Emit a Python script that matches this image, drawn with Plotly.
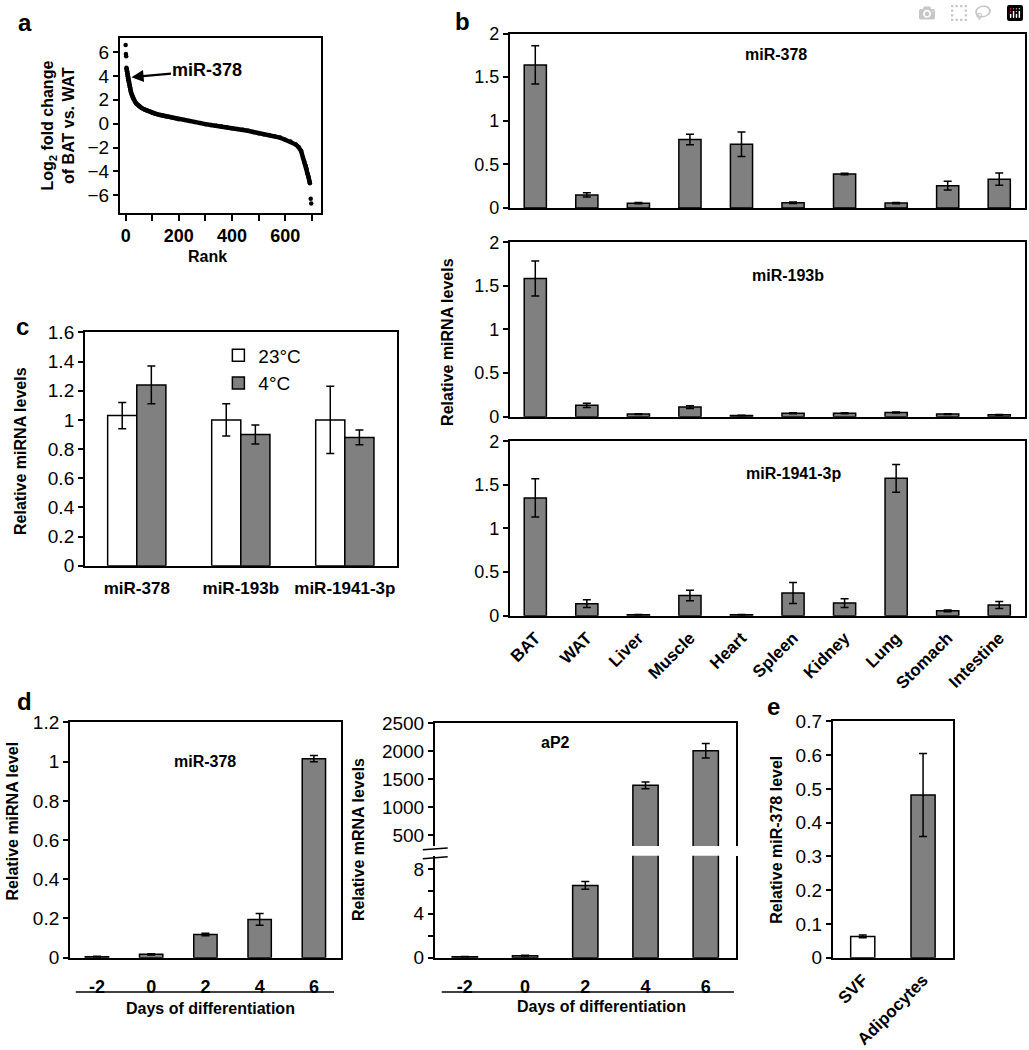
import plotly.graph_objects as go

W, H = 1029, 1050
FONT = "Liberation Sans, Arial, Helvetica, sans-serif"
GRAY = "#808080"
TICK = 19


def X(px):
    return px / W


def Y(py):
    return 1 - py / H


# ---------------- data ----------------
# Panel a: ranked log2 fold change (BAT vs WAT) - main band
rank_a = [3, 4, 5, 6, 7, 8, 9, 10, 12, 14, 16, 18, 20, 23, 26, 30, 35, 40, 45, 50, 55, 60,
          70, 80, 90, 100, 110, 120, 130, 140, 150, 160, 170, 180, 190, 200, 220, 240, 260, 280,
          300, 320, 340, 360, 380, 400, 420, 440, 460, 480, 500, 520, 540, 560, 580, 600, 620,
          640, 650, 660, 667, 672, 677, 681, 684, 688, 691, 693]
fold_a = [4.7, 4.55, 4.4, 4.25, 4.1, 3.95, 3.8, 3.65, 3.45, 3.25, 3.05, 2.85, 2.65,
          2.45, 2.25, 2.05, 1.85, 1.7, 1.58, 1.48, 1.4, 1.32, 1.2, 1.1, 1.02, 0.9, 0.84, 0.78,
          0.73, 0.68, 0.63, 0.58, 0.53, 0.48, 0.43, 0.38, 0.3, 0.22, 0.14, 0.06, -0.04, -0.11,
          -0.17, -0.23, -0.3, -0.38, -0.45, -0.52, -0.6, -0.7, -0.8, -0.88, -0.96, -1.05, -1.17,
          -1.35, -1.5, -1.75, -1.95, -2.3, -2.85, -3.2, -3.5, -3.8, -4.2, -4.5, -4.8, -5.0]
# isolated extreme points
rank_out = [0, 1, 2, 696, 698]
fold_out = [6.6, 5.85, 5.65, -6.3, -6.7]
rank_ticks = [0, 200, 400, 600]
rank_minor = [100, 300, 500, 700]

# Panel b: tissue distribution
tissues = ["BAT", "WAT", "Liver", "Muscle", "Heart", "Spleen", "Kidney", "Lung", "Stomach", "Intestine"]
b378 = [1.64, 0.15, 0.055, 0.785, 0.73, 0.06, 0.39, 0.056, 0.255, 0.33]
b378_err = [0.22, 0.025, 0.008, 0.06, 0.14, 0.008, 0.008, 0.008, 0.05, 0.07]
b193 = [1.585, 0.13, 0.03, 0.11, 0.015, 0.04, 0.04, 0.048, 0.03, 0.022]
b193_err = [0.2, 0.025, 0.005, 0.015, 0.003, 0.005, 0.005, 0.005, 0.005, 0.004]
b1941 = [1.35, 0.137, 0.01, 0.23, 0.01, 0.26, 0.144, 1.574, 0.055, 0.122]
b1941_err = [0.22, 0.045, 0.003, 0.06, 0.003, 0.12, 0.05, 0.16, 0.01, 0.04]
b_titles = ["miR-378", "miR-193b", "miR-1941-3p"]
b_ticks = [0, 0.5, 1, 1.5, 2]
b_ticktext = ["0", "0.5", "1", "1.5", "2"]

# Panel c: cold exposure
mirs_c = ["miR-378", "miR-193b", "miR-1941-3p"]
c23 = [1.03, 1.0, 1.0]
c23_err = [0.09, 0.11, 0.23]
c4 = [1.24, 0.9, 0.88]
c4_err = [0.13, 0.065, 0.05]

# Panel d: differentiation time course
days = ["-2", "0", "2", "4", "6"]
d378 = [0.005, 0.017, 0.118, 0.195, 1.015]
d378_err = [0.002, 0.003, 0.006, 0.03, 0.016]
ap2 = [0.08, 0.18, 6.55, 1393, 2010]
ap2_err = [0.02, 0.03, 0.35, 60, 130]

# Panel e: SVF vs adipocytes
cells = ["SVF", "Adipocytes"]
e378 = [0.063, 0.482]
e378_err = [0.004, 0.123]


# ---------------- helpers ----------------
def tfont(size=TICK, bold=False):
    d = dict(family=FONT, size=size, color="black")
    if bold:
        d["weight"] = "bold"
    return d


def yax(dom, rng, tickvals, anchor, ticktext=None, minor=None, mirror=True, size=TICK):
    d = dict(domain=[Y(dom[1]), Y(dom[0])], range=rng, tickmode="array", tickvals=tickvals,
             showline=True, linecolor="black", linewidth=1.5, mirror=mirror,
             showgrid=False, zeroline=False, ticks="outside", ticklen=5, tickwidth=1.5,
             tickcolor="black", tickfont=tfont(size), anchor=anchor, fixedrange=True)
    if ticktext is not None:
        d["ticktext"] = ticktext
    if minor is not None:
        d["minor"] = dict(tickmode="array", tickvals=minor, ticks="outside", ticklen=5,
                          tickwidth=1.5, tickcolor="black", showgrid=False)
    return d


def xcat(dom, anchor, labels=True, angle=0, size=17, pad=10, mirror=True, side="bottom"):
    return dict(domain=[X(dom[0]), X(dom[1])], type="category", anchor=anchor,
                showline=True, linecolor="black", linewidth=1.5, mirror=mirror,
                showgrid=False, zeroline=False, ticks="outside", ticklen=pad,
                tickcolor="rgba(0,0,0,0)", showticklabels=labels, tickangle=angle,
                tickfont=tfont(size, True), fixedrange=True, side=side)


def ebar(arr):
    return dict(type="data", array=arr, color="black", thickness=1.5, width=4, visible=True)


def bar(x, y, err, xa, ya, color=GRAY, width=0.42, name="", showlegend=False, offset=None):
    kw = dict(x=x, y=y, error_y=ebar(err), xaxis=xa, yaxis=ya, width=width,
              marker=dict(color=color, line=dict(color="black", width=1.5)),
              name=name, showlegend=showlegend, hoverinfo="x+y")
    if offset is not None:
        kw["offset"] = offset
    return go.Bar(**kw)


fig = go.Figure()

# ---------------- panel a ----------------
fig.add_trace(go.Scatter(x=rank_a, y=fold_a, mode="lines+markers", xaxis="x", yaxis="y",
                         line=dict(color="black", width=4.5),
                         marker=dict(color="black", size=4.5), showlegend=False))
fig.add_trace(go.Scatter(x=rank_out, y=fold_out, mode="markers", xaxis="x", yaxis="y",
                         marker=dict(color="black", size=4.5), showlegend=False))

# ---------------- panel b ----------------
b_doms = [(24, 202), (237, 415), (440, 618)]
b_data = [(b378, b378_err), (b193, b193_err), (b1941, b1941_err)]
for i, (vals, errs) in enumerate(b_data):
    n = i + 2
    fig.add_trace(bar(tissues, vals, errs, f"x{n}", f"y{n}", width=0.43))

# ---------------- panel c ----------------
fig.add_trace(bar(mirs_c, c23, c23_err, "x5", "y5", color="white", width=0.28, offset=-0.28,
                  name="23°C", showlegend=True))
fig.add_trace(bar(mirs_c, c4, c4_err, "x5", "y5", color=GRAY, width=0.28, offset=0.0,
                  name="4°C", showlegend=True))

# ---------------- panel d ----------------
fig.add_trace(bar(days, d378, d378_err, "x6", "y6", width=0.43))
fig.add_trace(bar(days, ap2, ap2_err, "x7", "y7", width=0.42))
fig.add_trace(bar(days, ap2, ap2_err, "x8", "y8", width=0.42))

# ---------------- panel e ----------------
fig.add_trace(bar(cells, e378, e378_err, "x9", "y9", color=["white", GRAY], width=0.4))

layout = dict(
    width=W, height=H, margin=dict(l=0, r=0, t=0, b=0),
    paper_bgcolor="white", plot_bgcolor="white", barmode="group",
    font=dict(family=FONT, color="black"),
    legend=dict(x=X(216), y=Y(333), xanchor="left", yanchor="top", font=tfont(TICK),
                bgcolor="rgba(0,0,0,0)", tracegroupgap=0, itemwidth=30),
)

# a axes
layout["xaxis"] = dict(domain=[X(117), X(319)], range=[-22.5, 735], tickmode="array",
                       tickvals=rank_ticks, ticktext=[str(v) for v in rank_ticks],
                       minor=dict(tickmode="array", tickvals=rank_minor, ticks="outside",
                                  ticklen=6, tickwidth=1.5, tickcolor="black", showgrid=False),
                       showline=True, linecolor="black", linewidth=1.5,
                       mirror=True, showgrid=False, zeroline=False, ticks="outside", ticklen=6,
                       tickwidth=1.5, tickcolor="black", tickfont=tfont(18, True), anchor="y",
                       fixedrange=True)
layout["yaxis"] = yax((29, 207), [-7.48, 7.15], [-6, -4, -2, 0, 2, 4, 6], "x")

# b axes
for i, dom in enumerate(b_doms):
    n = i + 2
    layout[f"xaxis{n}"] = xcat((508, 1025), f"y{n}", labels=(n == 4), angle=-45, size=17, pad=4)
    layout[f"yaxis{n}"] = yax(dom, [0, 2], b_ticks, f"x{n}", ticktext=b_ticktext, size=18)

# c axes
layout["xaxis5"] = xcat((82, 395), "y5", size=17, pad=6)
layout["yaxis5"] = yax((329, 567), [0, 1.6], [0, 0.2, 0.4, 0.6, 0.8, 1, 1.2, 1.4, 1.6], "x5",
                       ticktext=["0", "0.2", "0.4", "0.6", "0.8", "1", "1.2", "1.4", "1.6"])

# d axes
layout["xaxis6"] = xcat((67, 339), "y6", size=18, pad=12)
layout["yaxis6"] = yax((727, 967), [0, 1.2], [0, 0.2, 0.4, 0.6, 0.8, 1, 1.2], "x6",
                       ticktext=["0", "0.2", "0.4", "0.6", "0.8", "1", "1.2"])
# aP2 broken axis: lower and upper parts
layout["xaxis7"] = xcat((433, 735), "y7", size=18, pad=12, mirror=False)
layout["yaxis7"] = yax((863, 967), [0, 9.24], [0, 4, 8], "x7", minor=[2, 6])
layout["xaxis8"] = xcat((433, 735), "y8", labels=False, mirror=False, side="top")
layout["xaxis8"]["matches"] = "x7"
layout["yaxis8"] = yax((728, 853), [307, 2500], [500, 1000, 1500, 2000, 2500], "x8")

# e axes
layout["xaxis9"] = xcat((832, 953), "y9", angle=-45, size=17, pad=4)
layout["yaxis9"] = yax((726, 967), [0, 0.7], [0, 0.1, 0.2, 0.3, 0.4, 0.5, 0.6, 0.7], "x9",
                       ticktext=["0", "0.1", "0.2", "0.3", "0.4", "0.5", "0.6", "0.7"])

fig.update_layout(**layout)


def ann(text, x, y, size=16, angle=0, xanchor="center", yanchor="middle", bold=True,
        xref="paper", yref="paper"):
    fig.add_annotation(text=text, x=x, y=y, xref=xref, yref=yref, showarrow=False,
                       textangle=angle, xanchor=xanchor, yanchor=yanchor,
                       font=tfont(size, bold))


# panel letters
ann("a", X(22), Y(13), size=24)
ann("b", X(461), Y(12), size=24)
ann("c", X(20), Y(323), size=24)
ann("d", X(22), Y(706), size=24)
ann("e", X(773), Y(711), size=24)

# panel a texts
ann("Log<sub>2</sub> fold change<br>of BAT vs. WAT", X(55), Y(118), angle=-90, size=16)
ann("Rank", X(205), Y(252), size=16)
fig.add_annotation(text="miR-378", x=22, y=3.9, xref="x", yref="y", showarrow=True,
                   ax=76, ay=-7, arrowhead=2, arrowsize=1.1, arrowwidth=2.2, arrowcolor="black",
                   font=tfont(18, True))

# panel b texts
b_title_pos = [(0.516, 1.76), (0.54, 1.62), (0.55, 1.63)]
for i, (t, (fx, fy)) in enumerate(zip(b_titles, b_title_pos)):
    n = i + 2
    ann(t, fx, fy, size=16, xref=f"x{n} domain", yref=f"y{n}")
ann("Relative miRNA levels", X(446), Y(339), angle=-90, size=16)

# panel c texts
ann("Relative miRNA levels", X(17), Y(450), angle=-90, size=16)

# panel d texts
ann("miR-378", 0.5, 1.0, size=16, xref="x6 domain", yref="y6")
ann("Relative miRNA level", X(9), Y(827), angle=-90, size=16)
ann("Days of differentiation", X(208), Y(1019), size=16)
ann("aP2", 0.4, 2150, size=16, xref="x8 domain", yref="y8")
ann("Relative mRNA levels", X(356), Y(846), angle=-90, size=16)
ann("Days of differentiation", X(600), Y(1017), size=16)

# panel e texts
ann("Relative miR-378 level", X(775), Y(847), angle=-90, size=16)

# underlines for time-course x labels
for x0, x1 in [(73, 332), (440, 733)]:
    fig.add_shape(type="line", xref="paper", yref="paper", x0=X(x0), x1=X(x1), y0=Y(1002),
                  y1=Y(1002), line=dict(color="black", width=1.5))
# axis-break marks on aP2
for yy in (856, 865):
    fig.add_shape(type="line", xref="paper", yref="paper", x0=X(421), x1=X(446), y0=Y(yy + 1),
                  y1=Y(yy - 1), line=dict(color="black", width=1.5))

fig.write_html("out.html", post_script="document.body.style.margin='0';document.body.style.overflow='hidden';")
